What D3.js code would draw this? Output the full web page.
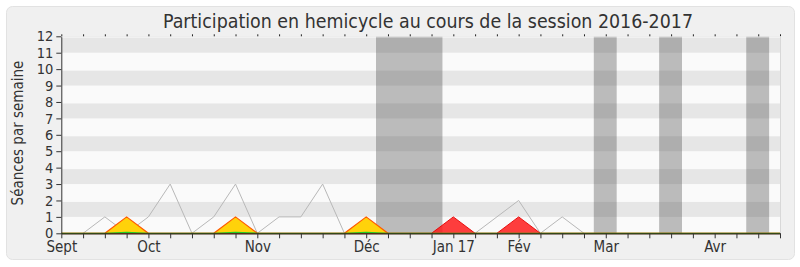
<!DOCTYPE html>
<html>
<head>
<meta charset="utf-8">
<script src="https://cdn.jsdelivr.net/npm/d3@7"></script>
<style>
  body { margin: 0; background: #fff; }
  svg text { font-family: "DejaVu Sans Condensed", "DejaVu Sans", sans-serif; font-stretch: condensed; fill: #333; }
</style>
</head>
<body>
<svg id="chart"></svg>
<script>
// week index of each tick (0 = first week of September 2016)
let weeks = d3.range(0, 34)
let monthLabels = ["Sept", "Oct", "Nov", "Déc", "Jan 17", "Fév", "Mar", "Avr"]
let monthWeeks = [0, 4, 9, 14, 18, 21, 25, 30]

// gray line: séances per week (weeks 1..24)
let seanceWeeks = d3.range(1, 25)
let seanceValues = [0, 1, 0, 1, 3, 0, 1, 3, 0, 1, 1, 3, 0, 0, 0, 0, 0, 0, 0, 1, 2, 0, 1, 0]

// presence (yellow), red series, interventions (green) for each week 0..33
let presenceValues = [0,0,0,1,0,0,0,0,1,0,0,0,0,0,1,0,0,0,0,0,0,0,0,0,0,0,0,0,0,0,0,0,0,0]
let redValues      = [0,0,0,0,0,0,0,0,0,0,0,0,0,0,0,0,0,0,1,0,0,1,0,0,0,0,0,0,0,0,0,0,0,0]
let greenValues    = [0,0,0,0.06,0,0,0,0,0.06,0,0,0,0,0,0.06,0,0,0,0,0,0,0,0,0,0,0,0,0,0,0,0,0,0,0]

// vacation periods (in week units)
let vacStart = [14.45, 24.45, 27.45, 31.45]
let vacEnd   = [17.5, 25.5, 28.5, 32.5]

let yTicks = d3.range(0, 13)

let width = 800
let height = 267
let plotLeft = 61.3
let plotRight = 780
let plotTop = 36.3
let plotBottom = 233.3

let svg = d3.select('#chart').attr('width', width).attr('height', height)

let xScale = d3.scaleLinear().domain([0, 33]).range([plotLeft, plotRight])
let yScale = d3.scaleLinear().domain([0, 12]).range([plotBottom, plotTop])

// panel
svg.append('rect')
    .attr('x', 6.5).attr('y', 6.5)
    .attr('width', 788).attr('height', 253)
    .attr('rx', 6)
    .attr('fill', '#f0f0f0')
    .attr('stroke', '#e2e2e2')

svg.append('text')
    .attr('x', 428)
    .attr('y', 28)
    .attr('text-anchor', 'middle')
    .style('font-size', '19.4px')
    .text('Participation en hemicycle au cours de la session 2016-2017')

// plot background + stripes
svg.append('rect')
    .attr('x', plotLeft).attr('y', plotTop)
    .attr('width', plotRight - plotLeft).attr('height', plotBottom - plotTop)
    .attr('fill', '#fafafa')

svg.selectAll('.band')
    .data(d3.range(1, 12, 2))
    .enter()
    .append('rect')
    .attr('class', 'band')
    .attr('x', plotLeft)
    .attr('width', plotRight - plotLeft)
    .attr('y', d => yScale(d + 1) + 1.5)
    .attr('height', d => yScale(d) - yScale(d + 1) - 1.5)
    .attr('fill', '#e6e6e6')

// vacations
svg.selectAll('.vac')
    .data(vacStart)
    .enter()
    .append('rect')
    .attr('class', 'vac')
    .attr('x', d => xScale(d))
    .attr('width', (d, i) => xScale(vacEnd[i]) - xScale(d))
    .attr('y', plotTop)
    .attr('height', plotBottom - plotTop)
    .attr('fill', 'rgba(70,70,70,0.35)')

// gray line
let line = d3.line()
    .x((d, i) => xScale(seanceWeeks[i]))
    .y(d => yScale(d))

svg.append('path')
    .datum(seanceValues)
    .attr('d', line)
    .attr('fill', 'none')
    .attr('stroke', '#b8b8b8')
    .attr('stroke-width', 1)

let area = d3.area()
    .x((d, i) => xScale(weeks[i]))
    .y0(plotBottom)
    .y1(d => yScale(d))
let topLine = d3.line()
    .x((d, i) => xScale(weeks[i]))
    .y(d => yScale(d))

// yellow presence
svg.append('path')
    .datum(presenceValues)
    .attr('d', area)
    .attr('fill', '#ffd20a')
svg.append('path')
    .datum(presenceValues)
    .attr('d', topLine)
    .attr('fill', 'none')
    .attr('stroke', '#ff5a00')
    .attr('stroke-width', 1.2)

// red
svg.append('path')
    .datum(redValues)
    .attr('d', area)
    .attr('fill', 'rgba(255,20,20,0.82)')
svg.append('path')
    .datum(redValues)
    .attr('d', topLine)
    .attr('fill', 'none')
    .attr('stroke', 'rgba(230,0,0,0.9)')
    .attr('stroke-width', 1)

// green interventions
svg.append('path')
    .datum(greenValues)
    .attr('d', topLine)
    .attr('fill', 'none')
    .attr('stroke', '#22cc22')
    .attr('stroke-width', 1.3)

// axes
let yAxis = d3.axisLeft(yScale)
    .tickValues(yTicks)
    .tickSize(5)
    .tickSizeOuter(0)
    .tickPadding(3)
let xAxis = d3.axisBottom(xScale)
    .tickValues(weeks)
    .tickSize(5)
    .tickSizeOuter(0)
    .tickPadding(3)
    .tickFormat(d => {
        let i = monthWeeks.indexOf(d)
        return i >= 0 ? monthLabels[i] : ''
    })
let xTop = d3.axisTop(xScale)
    .tickValues(weeks)
    .tickSize(2)
    .tickSizeOuter(0)
    .tickFormat('')

let gy = svg.append('g')
    .attr('transform', 'translate(' + plotLeft + ',0)')
    .call(yAxis)
gy.selectAll('text').style('font-size', '14.5px').attr('fill', '#333')
gy.select('.domain').attr('stroke', '#333')
gy.selectAll('line').attr('stroke', '#333')

let gt = svg.append('g')
    .attr('transform', 'translate(0,' + plotTop + ')')
    .call(xTop)
gt.select('.domain').attr('stroke', '#e8e8e8')
gt.selectAll('line').attr('stroke', '#222')

svg.append('line')
    .attr('x1', plotRight + 0.5).attr('x2', plotRight + 0.5)
    .attr('y1', plotTop).attr('y2', plotBottom)
    .attr('stroke', '#d8d8d8')

let gx = svg.append('g')
    .attr('transform', 'translate(0,' + plotBottom + ')')
    .call(xAxis)
gx.selectAll('text').style('font-size', '15px').attr('fill', '#333')
gx.select('.domain').attr('stroke', '#3a1e12').attr('stroke-width', 1.3)
gx.selectAll('line').attr('stroke', '#333')

svg.append('text')
    .attr('transform', 'translate(23,133) rotate(-90)')
    .attr('text-anchor', 'middle')
    .style('font-size', '15px')
    .text('Séances par semaine')
</script>
</body>
</html>
